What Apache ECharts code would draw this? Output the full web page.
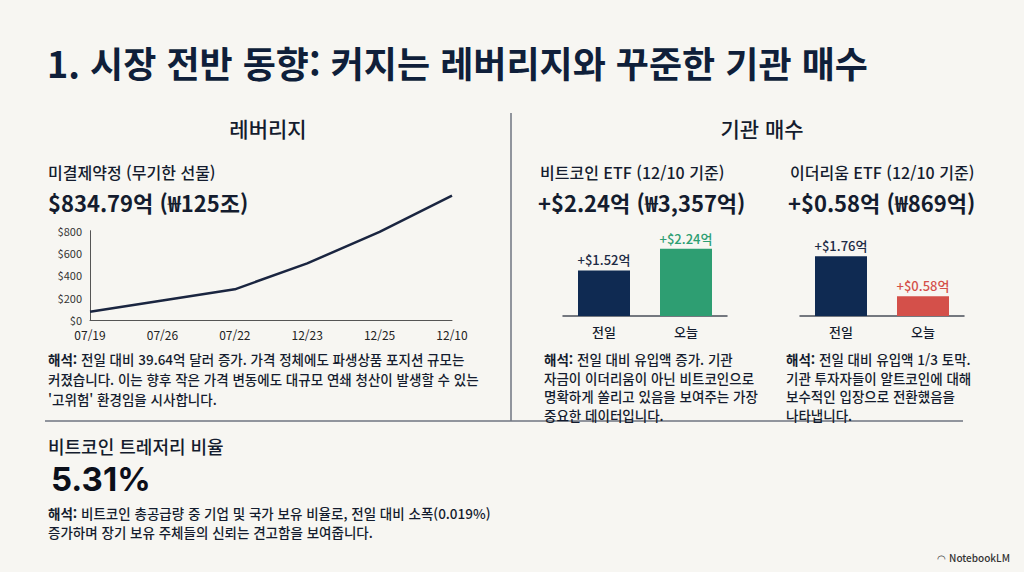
<!DOCTYPE html>
<html lang="ko">
<head>
<meta charset="UTF-8">
<title>시장 전반 동향</title>
<script src="https://cdn.jsdelivr.net/npm/echarts@6.0.0/dist/echarts.min.js"></script>
<style>
  html, body { margin: 0; padding: 0; background: #f7f6f2; }
  #main { width: 1024px; height: 572px; }
</style>
</head>
<body>
<div id="main"></div>
<script>
// open interest (perpetual futures)
const oiDates = ['07/19', '07/26', '07/22', '12/23', '12/25', '12/10'];
const oiValues = [74, 174, 275, 507, 790, 1115];
const oiTicks = [0, 200, 400, 600, 800];

// ETF flows, 억 달러
const etfDays = ['전일', '오늘'];
const btcFlows = [1.52, 2.24];
const ethFlows = [1.76, 0.58];

const FONT = '"Noto Sans CJK KR", "Noto Sans", sans-serif';
const NAVY = '#0f2a52';
const INK = '#141c2e';
const GREEN = '#2e9e72';
const RED = '#d4504a';

let chart = echarts.init(document.getElementById('main'), null, { renderer: 'svg' });

function txt(x, y, text, font, color, align) {
  return {
    type: 'text', x: x, y: y,
    style: {
      text: text, fill: color || INK, font: font,
      textAlign: align || 'left', textVerticalAlign: 'middle'
    }
  };
}

// paragraph with a bold "해석:" lead
function note(x, y, step, lines) {
  return lines.map((line, i) => ({
    type: 'text', x: x, y: y + i * step,
    style: {
      text: line, fill: INK, font: '500 13.5px ' + FONT,
      textVerticalAlign: 'middle',
      rich: { b: { fontWeight: 'bold', fontSize: 13.5, fontFamily: FONT, fill: INK } }
    }
  }));
}

function barLabel() {
  return {
    show: true, position: 'top', distance: 4,
    fontFamily: FONT, fontSize: 13, fontWeight: 500,
    formatter: p => '+$' + p.value.toFixed(2) + '억'
  };
}

let graphics = [
  txt(47, 62, '1. 시장 전반 동향: 커지는 레버리지와 꾸준한 기관 매수', 'bold 36px ' + FONT, '#0f1f3a'),
  txt(268, 128, '레버리지', '500 21px ' + FONT, INK, 'center'),
  txt(762, 128, '기관 매수', '500 21px ' + FONT, INK, 'center'),

  { type: 'line', shape: { x1: 511, y1: 113, x2: 511, y2: 421 }, style: { stroke: '#6f7480', lineWidth: 1.5 } },
  { type: 'line', shape: { x1: 45, y1: 421, x2: 963, y2: 421 }, style: { stroke: '#6f7480', lineWidth: 1.5 } },

  txt(48, 172, '미결제약정 (무기한 선물)', '500 16px ' + FONT),
  txt(48, 202, '$834.79억 (₩125조)', 'bold 22px ' + FONT),
  txt(540, 172, '비트코인 ETF (12/10 기준)', '500 16px ' + FONT),
  txt(538, 202, '+$2.24억 (₩3,357억)', 'bold 22px ' + FONT),
  txt(790, 172, '이더리움 ETF (12/10 기준)', '500 16px ' + FONT),
  txt(788, 202, '+$0.58억 (₩869억)', 'bold 22px ' + FONT),

  txt(48, 446, '비트코인 트레저리 비율', '500 18px ' + FONT),
  txt(51, 479, '5.31%', 'bold 33px Inter, ' + FONT, '#0b0f1a'),

  txt(1010, 557, '◠ NotebookLM', '500 10px ' + FONT, '#333', 'right')
];

graphics = graphics.concat(
  note(48, 359, 20, [
    '{b|해석:} 전일 대비 39.64억 달러 증가. 가격 정체에도 파생상품 포지션 규모는',
    '커졌습니다. 이는 향후 작은 가격 변동에도 대규모 연쇄 청산이 발생할 수 있는',
    "'고위험' 환경임을 시사합니다."
  ]),
  note(544, 359, 18.7, [
    '{b|해석:} 전일 대비 유입액 증가. 기관',
    '자금이 이더리움이 아닌 비트코인으로',
    '명확하게 쏠리고 있음을 보여주는 가장',
    '중요한 데이터입니다.'
  ]),
  note(786, 359, 18.7, [
    '{b|해석:} 전일 대비 유입액 1/3 토막.',
    '기관 투자자들이 알트코인에 대해',
    '보수적인 입장으로 전환했음을',
    '나타냅니다.'
  ]),
  note(48, 513, 19, [
    '{b|해석:} 비트코인 총공급량 중 기업 및 국가 보유 비율로, 전일 대비 소폭(0.019%)',
    '증가하며 장기 보유 주체들의 신뢰는 견고함을 보여줍니다.'
  ])
);

const catAxisBase = {
  type: 'category', data: etfDays,
  axisLine: { lineStyle: { color: '#4a4f5a', width: 1.5 } },
  axisTick: { show: false },
  axisLabel: { color: INK, fontFamily: FONT, fontSize: 13, fontWeight: 500, margin: 9 }
};

let options = {
  backgroundColor: '#f7f6f2',
  animation: false,
  graphic: graphics,
  grid: [
    { left: 90, right: 572, top: 230.7, bottom: 252 },
    { left: 563, width: 164, top: 226, bottom: 256 },
    { left: 800, width: 164, top: 231, bottom: 256 }
  ],
  xAxis: [
    {
      gridIndex: 0, type: 'category', data: oiDates, boundaryGap: false,
      axisLine: { lineStyle: { color: '#555', width: 1 } },
      axisTick: { show: false },
      axisLabel: { color: '#222', fontFamily: FONT, fontSize: 12, margin: 8, lineHeight: 13 }
    },
    Object.assign({ gridIndex: 1 }, catAxisBase),
    Object.assign({ gridIndex: 2 }, catAxisBase)
  ],
  yAxis: [
    {
      gridIndex: 0, type: 'value', min: oiTicks[0], max: oiTicks[oiTicks.length - 1], interval: 200,
      axisLine: { show: true, lineStyle: { color: '#555', width: 1 } },
      axisTick: { show: false },
      splitLine: { show: false },
      axisLabel: { color: '#333', fontFamily: FONT, fontSize: 11, lineHeight: 12, margin: 8, formatter: v => '$' + v }
    },
    { gridIndex: 1, type: 'value', min: 0, max: 3, show: false },
    { gridIndex: 2, type: 'value', min: 0, max: 2.5, show: false }
  ],
  series: [
    {
      type: 'line', xAxisIndex: 0, yAxisIndex: 0, data: oiValues,
      showSymbol: false, clip: false,
      lineStyle: { color: '#1a2540', width: 2.5 }
    },
    {
      type: 'bar', xAxisIndex: 1, yAxisIndex: 1, barWidth: 52,
      data: [
        { value: btcFlows[0], itemStyle: { color: NAVY }, label: { color: '#1d2b45' } },
        { value: btcFlows[1], itemStyle: { color: GREEN }, label: { color: GREEN } }
      ],
      label: barLabel()
    },
    {
      type: 'bar', xAxisIndex: 2, yAxisIndex: 2, barWidth: 52,
      data: [
        { value: ethFlows[0], itemStyle: { color: NAVY }, label: { color: '#1d2b45' } },
        { value: ethFlows[1], itemStyle: { color: RED }, label: { color: RED } }
      ],
      label: barLabel()
    }
  ]
};

chart.setOption(options);
</script>
</body>
</html>
